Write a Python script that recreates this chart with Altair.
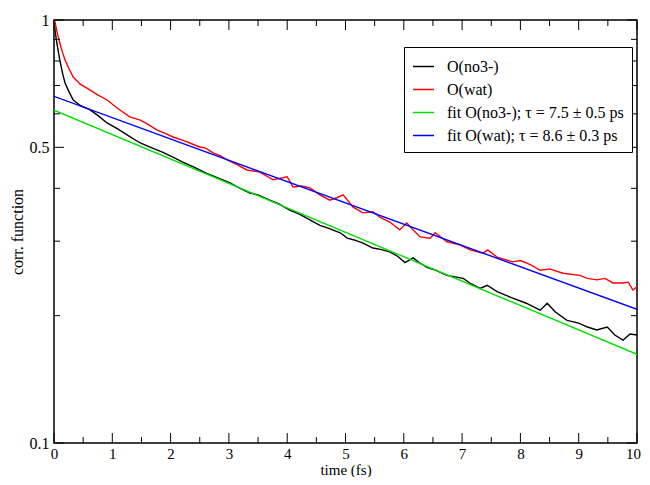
import altair as alt
import pandas as pd

# ---- data ----
t_no3 = [0.0, 0.017, 0.05, 0.10, 0.15, 0.19, 0.25, 0.33, 0.45, 0.62, 0.75, 0.91, 1.1, 1.3, 1.48,
         1.7, 1.85, 2.04, 2.2, 2.4, 2.62, 2.8, 3.02, 3.14, 3.36, 3.5, 3.70, 3.85, 4.05, 4.2,
         4.39, 4.56, 4.7, 4.91, 5.03, 5.15, 5.30, 5.47, 5.6, 5.76, 5.9, 6.02, 6.16, 6.28, 6.40,
         6.55, 6.74, 6.88, 7.02, 7.15, 7.31, 7.43, 7.6, 7.87, 8.1, 8.34, 8.46, 8.6, 8.80, 9.0,
         9.15, 9.31, 9.49, 9.62, 9.76, 9.88, 10.0]
v_no3 = [1.0, 0.947, 0.88, 0.804, 0.745, 0.710, 0.68, 0.647, 0.628, 0.613, 0.595, 0.571, 0.552, 0.530, 0.512,
         0.497, 0.488, 0.474, 0.462, 0.449, 0.434, 0.424, 0.412, 0.403, 0.390, 0.386, 0.375, 0.368, 0.355, 0.348,
         0.337, 0.327, 0.322, 0.314, 0.305, 0.302, 0.297, 0.289, 0.287, 0.283, 0.276, 0.267, 0.274, 0.266, 0.260,
         0.256, 0.249, 0.247, 0.245, 0.238, 0.232, 0.236, 0.228, 0.220, 0.214, 0.206, 0.214, 0.204, 0.195, 0.192,
         0.188, 0.185, 0.188, 0.180, 0.175, 0.181, 0.180]

t_wat = [0.0, 0.017, 0.05, 0.10, 0.15, 0.19, 0.25, 0.33, 0.45, 0.62, 0.75, 0.91, 1.1, 1.30, 1.48,
         1.6, 1.77, 1.9, 2.04, 2.2, 2.33, 2.50, 2.6, 2.73, 2.85, 2.97, 3.14, 3.31, 3.53, 3.76,
         4.0, 4.10, 4.25, 4.39, 4.56, 4.73, 4.85, 4.96, 5.13, 5.30, 5.47, 5.59, 5.76, 5.93, 6.05,
         6.15, 6.28, 6.45, 6.54, 6.74, 6.96, 7.14, 7.36, 7.44, 7.6, 7.87, 8.0, 8.17, 8.34, 8.5,
         8.73, 9.02, 9.15, 9.31, 9.45, 9.59, 9.76, 9.85, 9.93, 10.0]
v_wat = [1.0, 0.989, 0.94, 0.882, 0.835, 0.804, 0.77, 0.733, 0.705, 0.683, 0.665, 0.647, 0.617, 0.590, 0.580,
         0.568, 0.549, 0.540, 0.529, 0.520, 0.512, 0.501, 0.498, 0.485, 0.478, 0.467, 0.455, 0.442, 0.437, 0.419,
         0.426, 0.403, 0.405, 0.401, 0.386, 0.375, 0.380, 0.386, 0.361, 0.350, 0.352, 0.342, 0.333, 0.319, 0.331,
         0.320, 0.307, 0.305, 0.314, 0.299, 0.294, 0.286, 0.281, 0.286, 0.275, 0.268, 0.270, 0.264, 0.256, 0.258,
         0.252, 0.249, 0.245, 0.243, 0.245, 0.239, 0.239, 0.240, 0.230, 0.234]

fit_t = [0.0, 10.0]
fit_no3 = [0.612, 0.162]
fit_wat = [0.660, 0.207]

names = ["O(no3-)", "O(wat)",
         "fit O(no3-); \u03c4 = 7.5 \u00b1 0.5 ps",
         "fit O(wat); \u03c4 = 8.6 \u00b1 0.3 ps"]
colors = ["#000000", "#ff0000", "#00e000", "#0000ff"]

x_major = [0, 1, 2, 3, 4, 5, 6, 7, 8, 9, 10]
x_minor = [0.5, 1.5, 2.5, 3.5, 4.5, 5.5, 6.5, 7.5, 8.5, 9.5]
y_major = [0.1, 0.5, 1.0]
y_minor = [0.2, 0.3, 0.4, 0.6, 0.7, 0.8, 0.9]

# ---- build table ----
rows = []
for tt, vv in zip(t_no3, v_no3):
    rows.append({"t": tt, "v": vv, "series": names[0], "k": 0})
for tt, vv in zip(t_wat, v_wat):
    rows.append({"t": tt, "v": vv, "series": names[1], "k": 1})
for tt, vv in zip(fit_t, fit_no3):
    rows.append({"t": tt, "v": vv, "series": names[2], "k": 2})
for tt, vv in zip(fit_t, fit_wat):
    rows.append({"t": tt, "v": vv, "series": names[3], "k": 3})
df = pd.DataFrame(rows)

W, H = 583, 423
FONT = "Liberation Serif"

xs = alt.Scale(domain=[0, 10], nice=False, zero=False)
ys = alt.Scale(type="log", domain=[0.1, 1], nice=False)

xaxis = alt.Axis(values=x_major, title="time (fs)", ticks=False, tickSize=0,
                 domain=False, grid=False, labelPadding=3,
                 titleY=31, titleBaseline="alphabetic",
                 labelFont=FONT, labelFontSize=15, labelColor="black",
                 labelOffset=alt.expr("datum.value == 10 ? -4 : 0"),
                 titleFont=FONT, titleFontSize=15, titleFontWeight="normal",
                 titleColor="black", labelFlush=False)
yaxis = alt.Axis(values=y_major, format="~g", title="corr. function", ticks=False,
                 tickSize=0, domain=False, grid=False, labelPadding=5, titlePadding=4,
                 labelFont=FONT, labelFontSize=16, labelColor="black",
                 titleFont=FONT, titleFontSize=16, titleFontWeight="normal",
                 titleColor="black", labelFlush=False)

lines = alt.Chart(df).mark_line(strokeWidth=1.4, clip=True).encode(
    x=alt.X("t:Q", scale=xs, axis=xaxis, title="time (fs)"),
    y=alt.Y("v:Q", scale=ys, axis=yaxis, title="corr. function"),
    color=alt.Color("series:N",
                    scale=alt.Scale(domain=names, range=colors),
                    legend=alt.Legend(title=None, orient="none", legendX=350, legendY=27,
                                      strokeColor="black", fillColor="white", padding=8,
                                      labelFont=FONT, labelFontSize=16, labelColor="black",
                                      symbolType="stroke", symbolSize=440,
                                      symbolStrokeWidth=1.5, labelOffset=12, rowPadding=3,
                                      labelLimit=400)),
    order=alt.Order("k:Q"),
)


def xticks(vals, length, top):
    return alt.Chart(pd.DataFrame({"t": vals})).mark_rule(color="black", strokeWidth=1).encode(
        x=alt.X("t:Q", scale=xs, axis=xaxis, title="time (fs)"),
        y=alt.value(0 if top else H),
        y2=alt.value(length if top else H - length),
    )


def yticks(vals, length, right):
    return alt.Chart(pd.DataFrame({"v": vals})).mark_rule(color="black", strokeWidth=1).encode(
        y=alt.Y("v:Q", scale=ys, axis=yaxis, title="corr. function"),
        x=alt.value(W if right else 0),
        x2=alt.value(W - length if right else length),
    )


ticks = [
    xticks(x_major, 10, False), xticks(x_minor, 6, False),
    xticks(x_major, 10, True), xticks(x_minor, 6, True),
    yticks(y_major, 10, False), yticks(y_minor, 6, False),
    yticks(y_major, 10, True), yticks(y_minor, 6, True),
]

chart = alt.layer(lines, *ticks).properties(
    width=W, height=H,
    padding={"left": 46, "top": 12, "right": 5, "bottom": 34},
    autosize="none",
    background="white",
).configure_view(stroke="black", strokeWidth=1.5)

chart.save("out.html", embed_options={"renderer": "svg", "actions": False})
